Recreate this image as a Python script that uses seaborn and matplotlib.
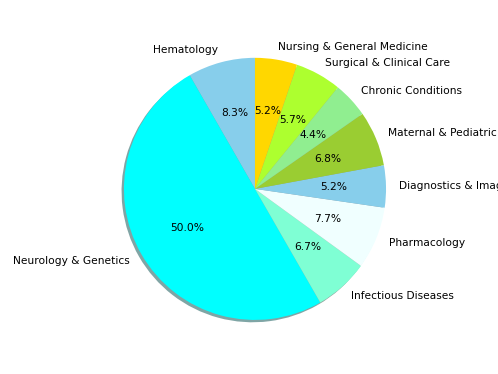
import matplotlib
matplotlib.use("Agg")
import matplotlib.pyplot as plt
import seaborn as sns

# slice data (counter-clockwise from 12 o'clock)
categories = [
    "Hematology", "Neurology & Genetics", "Infectious Diseases", "Pharmacology",
    "Diagnostics & Imaging", "Maternal & Pediatric Care", "Chronic Conditions",
    "Surgical & Clinical Care", "Nursing & General Medicine",
]
shares = [8.3, 50.0, 6.7, 7.7, 5.2, 6.8, 4.4, 5.7, 5.2]
slice_colors = [
    "skyblue", "cyan", "aquamarine", "azure", "skyblue",
    "yellowgreen", "lightgreen", "greenyellow", "gold",
]

sns.set_style("white")
plt.rcParams["font.family"] = ["DejaVu Sans"]

fig = plt.figure(figsize=(4.98, 3.74), dpi=100)
ax = fig.add_axes([0.183, 0.057, 0.658, 0.876])

ax.pie(shares, labels=categories, colors=slice_colors, autopct="%1.1f%%",
       startangle=90, shadow={"ox": -0.013, "oy": -0.013},
       wedgeprops={"linewidth": 0},
       textprops={"fontsize": 7.7, "color": "black"})

fig.savefig("out.png", dpi=100)
